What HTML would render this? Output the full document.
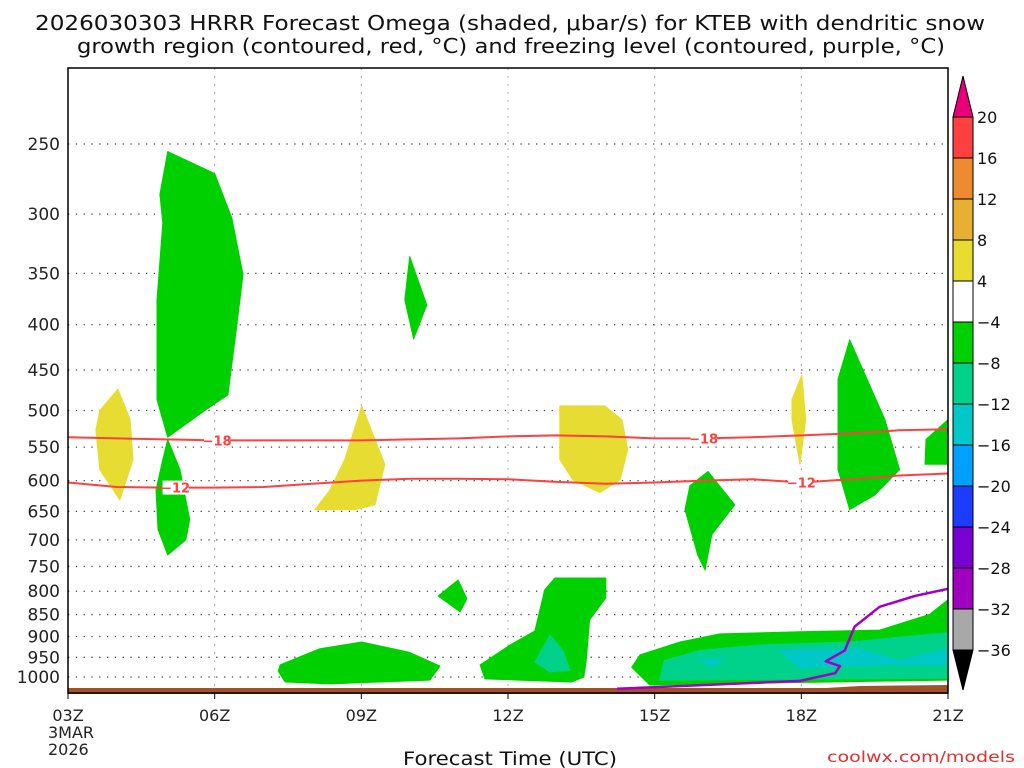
<!DOCTYPE html>
<html><head><meta charset="utf-8"><style>
html,body{margin:0;padding:0;background:#fff;}
svg{display:block;font-family:"DejaVu Sans","Liberation Sans",sans-serif;}
</style></head><body>
<svg id="chart" width="1024" height="768" viewBox="0 0 1024 768">
<text x="35" y="30" font-size="20" textLength="950" lengthAdjust="spacingAndGlyphs" fill="#111">2026030303 HRRR Forecast Omega (shaded, μbar/s) for KTEB with dendritic snow</text>
<text x="77" y="53" font-size="20" textLength="868" lengthAdjust="spacingAndGlyphs" fill="#111">growth region (contoured, red, °C) and freezing level (contoured, purple, °C)</text>
<g id="grid"></g>
<g id="fills"></g>
<g id="lines"></g>
<g id="axes"></g>
<g id="cbar"></g>
<text x="403" y="765" font-size="19" textLength="214" lengthAdjust="spacingAndGlyphs" fill="#111">Forecast Time (UTC)</text>
<text x="827" y="762" font-size="15" fill="#e03030" textLength="188" lengthAdjust="spacingAndGlyphs">coolwx.com/models</text>
</svg>
<script>
const xTicks=["03Z","06Z","09Z","12Z","15Z","18Z","21Z"];
const pLevels=[250,300,350,400,450,500,550,600,650,700,750,800,850,900,950,1000];
const cbLevels=[20,16,12,8,4,-4,-8,-12,-16,-20,-24,-28,-32,-36];
const cbColors=["#ff4040","#f08a30","#e8b030","#e8dc30","#ffffff","#00d000","#00d28c","#00c8c8","#00a0ff","#1e3cff","#7800d2","#a000c0","#a8a8a8"];
const tallGreenH=[2.04,3.0,3.35,3.58,3.44,3.27,2.8,2.04,1.82,1.82,1.94,1.88];
const tallGreenP=[255,270,303,351,406,480,500,536,486,375,307,285];
const lowGreenH=[2.04,2.29,2.49,2.41,2.04,1.84,1.8,1.94];
const lowGreenP=[539,583,664,700,728,681,615,568];
const yellow04H=[1.02,1.27,1.33,1.06,0.65,0.57,0.65];
const yellow04P=[473,512,568,631,583,526,500];
const green10H=[6.99,7.34,7.07,6.89];
const green10P=[335,380,415,375];
const yellow09H=[6.01,6.48,6.28,5.87,5.05,5.36,5.66];
const yellow09P=[494,575,639,647,647,615,568];
const green11H=[7.98,8.16,8.02,7.57];
const green11P=[777,816,844,810];
const greenLowAH=[4.34,5.15,6.01,6.99,7.61,7.4,5.36,4.44,4.3];
const greenLowAP=[969,929,913,938,972,1008,1018,1013,985];
const greenLowBH=[9.96,11.0,11.0,10.67,10.6,10.55,10.3,8.53,8.43,9.04,9.55,9.75];
const greenLowBP=[773,773,814,862,960,1000,1013,1005,969,920,887,797];
const tealBH=[9.86,10.12,10.27,9.86,9.55];
const tealBP=[897,933,982,987,962];
const yellow13H=[10.06,10.98,11.33,11.45,11.29,10.88,10.33,10.06];
const yellow13P=[494,494,512,553,599,619,599,568];
const green16H=[13.09,13.64,13.17,13.03,12.88,12.62,12.72];
const green16P=[586,639,690,757,728,647,608];
const yellow18H=[15.01,15.09,14.97,14.81,14.81];
const yellow18P=[456,512,575,512,486];
const green19H=[15.99,16.71,17.01,16.5,15.99,15.75,15.75];
const green19P=[416,512,583,623,647,583,461];
const greenEdgeH=[18,18,17.53,17.55];
const greenEdgeP=[512,575,575,539];
const greenBigH=[18,18,11.9,11.53,11.7,12.52,13.33,14.97,16.6,17.62];
const greenBigP=[818,1008,1021,975,944,913,894,889,885,850];
const tealBigH=[18,18,12.1,12.2,12.92,14.15,15.99,17.42];
const tealBigP=[891,1003,1008,958,933,920,913,897];
const cyanBigH=[14.56,16.2,17.01,18,18,16.6,14.97];
const cyanBigP=[933,929,958,929,969,969,977];
const cyanSmallH=[12.9,13.4,13.2];
const cyanSmallP=[955,955,975];
const lineHours=[0,1,2,3,4,5,6,7,8,9,10,11,12,13,14,15,16,17,18];
const minus18P=[536,537.6,539,540.4,540.4,540.4,540.4,539,537.6,534.8,533.4,534.8,537.6,537.6,536,533.4,530.6,526.4,525];
const minus12P=[603,610,611,611,610,605,600,597,597,598,602,605,603,600,598,603,598,592,589];
const freezeH=[11.23,14.97,15.69,15.79,15.5,15.89,16.09,16.6,17.32,18];
const freezeP=[1031,1010,990,972,960,933,877,833,810,795];

const X0=68,X1=948,Y0=68,Y1=693;
const xs=h=>X0+h*(X1-X0)/18;
const ys=p=>144+(Math.log(p)-Math.log(250))*384.5;
const NS="http://www.w3.org/2000/svg";
function mk(tag,attrs,parent){const e=document.createElementNS(NS,tag);for(const k in attrs)e.setAttribute(k,attrs[k]);parent.appendChild(e);return e;}
const grid=document.getElementById('grid'),fills=document.getElementById('fills'),lines=document.getElementById('lines'),axes=document.getElementById('axes'),cbar=document.getElementById('cbar');

pLevels.forEach(p=>{const l=mk('line',{x1:X0,x2:X1,y1:ys(p),y2:ys(p),stroke:'#444','stroke-width':1.3,'stroke-dasharray':'1.3 6.5'},grid);

});
xTicks.forEach((t,i)=>{const x=xs(i*3);const l=mk('line',{x1:x,x2:x,y1:Y0,y2:Y1,stroke:'#aaa','stroke-width':1,'stroke-dasharray':'2 6'},grid);

});

function poly(H,P,color,name){const pts=H.map((h,i)=>xs(h).toFixed(1)+','+ys(P[i]).toFixed(1)).join(' ');
const e=mk('polygon',{points:pts,fill:color,'stroke':color,'stroke-width':1,'stroke-linejoin':'round'},fills);

}
const G="#00d000",T="#00d28c",C="#00c8c8",Y="#e6dc32";
poly(tallGreenH,tallGreenP,G,'upward-motion-upper-06z');
poly(lowGreenH,lowGreenP,G,'upward-motion-mid-05z');
poly(yellow04H,yellow04P,Y,'downward-motion-04z');
poly(green10H,green10P,G,'upward-motion-10z');
poly(yellow09H,yellow09P,Y,'downward-motion-09z');
poly(green11H,green11P,G,'upward-motion-11z');
poly(greenLowAH,greenLowAP,G,'upward-motion-low-08z');
poly(greenLowBH,greenLowBP,G,'upward-motion-low-13z');
poly(tealBH,tealBP,T,'upward-motion-strong-13z');
poly(yellow13H,yellow13P,Y,'downward-motion-13z');
poly(green16H,green16P,G,'upward-motion-16z');
poly(yellow18H,yellow18P,Y,'downward-motion-18z');
poly(green19H,green19P,G,'upward-motion-19z');
poly(greenEdgeH,greenEdgeP,G,'upward-motion-21z');
poly(greenBigH,greenBigP,G,'upward-motion-low-18z');
poly(tealBigH,tealBigP,T,'upward-motion-strong-18z');
poly(cyanBigH,cyanBigP,C,'upward-motion-stronger-19z');
poly(cyanSmallH,cyanSmallP,C,'upward-motion-stronger-16z');

const gr=mk('polygon',{points:`${X0},688 ${xs(15.5)},688 ${xs(16.2)},686 ${X1},685 ${X1},694 ${X0},694`,fill:'#a0522d'},fills);



function pline(H,P,color,w,name){const d=H.map((h,i)=>(i?'L':'M')+xs(h).toFixed(1)+','+ys(P[i]).toFixed(1)).join(' ');
const e=mk('path',{d:d,fill:'none',stroke:color,'stroke-width':w,'stroke-linejoin':'round'},lines);

}
pline(lineHours,minus18P,'#ff4040',2,'contour-minus-18');
pline(lineHours,minus12P,'#ff4040',2,'contour-minus-12');
pline(freezeH,freezeP,'#a000c8',2.5,'freezing-level');
function clabel(h,p,t){const x=xs(h),y=ys(p);
const r=mk('rect',{x:x-13,y:y-7,width:26,height:14,fill:'#fff'},lines);


const tx=mk('text',{x:x,y:y+5,'font-size':13,'font-weight':'bold',fill:'#ff4040','text-anchor':'middle'},lines);tx.textContent=t;

}
clabel(3.05,minus18P[3],'−18');clabel(2.2,minus12P[2],'−12');clabel(13.0,minus18P[13],'−18');clabel(15.0,minus12P[15],'−12');

const fr=mk('rect',{x:X0,y:Y0,width:X1-X0,height:Y1-Y0,fill:'none',stroke:'#000','stroke-width':1.5},axes);


pLevels.forEach(p=>{const t=mk('text',{x:60,y:ys(p)+6,'font-size':17,'text-anchor':'end',fill:'#222'},axes);t.textContent=p;

});
xTicks.forEach((lab,i)=>{const x=xs(i*3);mk('line',{x1:x,x2:x,y1:Y1,y2:Y1+6,stroke:'#000'},axes);
const t=mk('text',{x:x,y:721,'font-size':16,'text-anchor':'middle',fill:'#222'},axes);t.textContent=lab;

});
[['3MAR',738],['2026',755]].forEach(a=>{const t=mk('text',{x:X0-20,y:a[1],'font-size':16,fill:'#222'},axes);t.textContent=a[0];

});

const CX=953,CW=20;
const ct=mk('polygon',{points:`${CX},117 ${CX+CW},117 ${CX+CW/2},76`,fill:'#e8007a',stroke:'#000'},cbar);


const cbt=mk('polygon',{points:`${CX},650 ${CX+CW},650 ${CX+CW/2},690`,fill:'#000',stroke:'#000'},cbar);


cbColors.forEach((c,i)=>{const y=117+i*41;const r=mk('rect',{x:CX,y:y,width:CW,height:41,fill:c,stroke:'#000','stroke-width':1},cbar);

});
cbLevels.forEach((v,i)=>{const y=117+i*41;const t=mk('text',{x:977,y:y+6,'font-size':16,fill:'#111'},cbar);t.textContent=v<0?'−'+(-v):v;

});
</script>
</body></html>
